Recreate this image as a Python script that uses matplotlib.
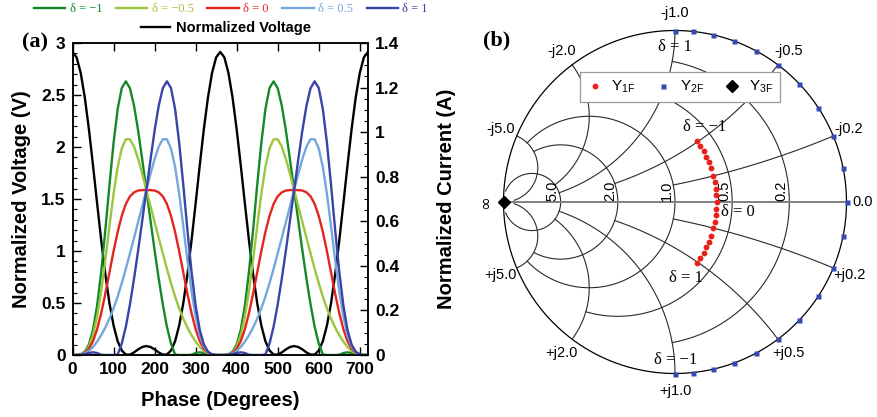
import numpy as np
import matplotlib
matplotlib.use('Agg')
import matplotlib.pyplot as plt
from matplotlib.lines import Line2D
from matplotlib.ticker import MultipleLocator

plt.rcParams['font.family'] = ['Liberation Sans', 'DejaVu Sans']
plt.rcParams['mathtext.fontset'] = 'custom'
plt.rcParams['mathtext.rm'] = 'Liberation Sans'
plt.rcParams['mathtext.default'] = 'regular'
SERIF = ['Liberation Serif', 'DejaVu Serif']

# ---- (a) one period of the waveforms, every 10 degrees (the plot repeats it twice)
phase = list(range(0, 361, 10))
voltage = [2.914, 2.862, 2.712, 2.475, 2.170, 1.822, 1.457, 1.101, 0.776, 0.500,
           0.285, 0.133, 0.043, 0.004, 0.004, 0.025, 0.054, 0.077, 0.086, 0.077,
           0.054, 0.025, 0.004, 0.004, 0.043, 0.133, 0.285, 0.500, 0.776, 1.101,
           1.457, 1.822, 2.170, 2.475, 2.712, 2.862, 2.914]
cur_m1 = [0.0, 0.0, 0.003, 0.015, 0.047, 0.113, 0.222, 0.374, 0.561, 0.762,
          0.951, 1.103, 1.198, 1.228, 1.197, 1.118, 1.006, 0.876, 0.740, 0.604,
          0.470, 0.343, 0.227, 0.127, 0.051, 0.002, 0.0, 0.0, 0.0, 0.001,
          0.009, 0.012, 0.009, 0.004, 0.001, 0.0, 0.0]
cur_m05 = [0.0, 0.0, 0.002, 0.012, 0.038, 0.089, 0.172, 0.286, 0.426, 0.577,
           0.722, 0.843, 0.927, 0.968, 0.968, 0.935, 0.879, 0.812, 0.740, 0.668,
           0.597, 0.526, 0.456, 0.387, 0.322, 0.262, 0.209, 0.163, 0.123, 0.089,
           0.060, 0.036, 0.018, 0.007, 0.002, 0.0, 0.0]
cur_0 = [0.0, 0.0, 0.002, 0.010, 0.028, 0.062, 0.116, 0.188, 0.275, 0.370,
         0.465, 0.552, 0.624, 0.678, 0.712, 0.730, 0.738, 0.740, 0.740, 0.740,
         0.738, 0.730, 0.712, 0.678, 0.624, 0.552, 0.465, 0.370, 0.275, 0.188,
         0.116, 0.062, 0.028, 0.010, 0.002, 0.0, 0.0]
cur_p05 = [0.0, 0.0, 0.002, 0.007, 0.018, 0.036, 0.060, 0.089, 0.123, 0.163,
           0.209, 0.262, 0.322, 0.387, 0.456, 0.526, 0.597, 0.668, 0.740, 0.812,
           0.879, 0.935, 0.968, 0.968, 0.927, 0.843, 0.722, 0.577, 0.426, 0.286,
           0.172, 0.089, 0.038, 0.012, 0.002, 0.0, 0.0]
cur_p1 = [0.0, 0.0, 0.001, 0.004, 0.009, 0.012, 0.009, 0.001, 0.0, 0.0,
          0.0, 0.002, 0.051, 0.127, 0.227, 0.343, 0.470, 0.604, 0.740, 0.876,
          1.006, 1.118, 1.197, 1.228, 1.198, 1.103, 0.951, 0.762, 0.561, 0.374,
          0.222, 0.113, 0.047, 0.015, 0.003, 0.0, 0.0]
currents = [cur_m1, cur_m05, cur_0, cur_p05, cur_p1]
cur_labels = ['δ = −1', 'δ = −0.5', 'δ = 0', 'δ = 0.5', 'δ = 1']
cur_colors = ['#15892a', '#9dc63c', '#e2261f', '#74a8da', '#3a43a6']

# ---- (b) fundamental / harmonic admittances against delta
delta = [-1.0, -0.9, -0.8, -0.7, -0.6, -0.5, -0.4, -0.3, -0.2, -0.1, 0.0,
         0.1, 0.2, 0.3, 0.4, 0.5, 0.6, 0.7, 0.8, 0.9, 1.0]
y1f_g = 0.61
y1f_b = [-0.51, -0.46, -0.41, -0.36, -0.31, -0.26, -0.20, -0.15, -0.10, -0.05, 0.0,
         0.05, 0.10, 0.15, 0.20, 0.26, 0.31, 0.36, 0.41, 0.46, 0.51]
y2f_b = [1.0, 0.9, 0.8, 0.7, 0.6, 0.5, 0.4, 0.3, 0.2, 0.1, 0.0,
         -0.1, -0.2, -0.3, -0.4, -0.5, -0.6, -0.7, -0.8, -0.9, -1.0]
# Y3F is infinite for every delta (short circuit)

grid_vals = [0.2, 0.5, 1.0, 2.0, 5.0]
grid_lims = [1.0, 2.0, 5.0, 5.0, 30.0]

W, H = 877, 417
fig = plt.figure(figsize=(W / 100, H / 100), dpi=100)


def two_periods(v):
    return v + v[1:]


ph = phase + [p + 360 for p in phase[1:]]

# ================= panel (a)
ax = fig.add_axes([72.5 / W, 1 - 355 / H, (368 - 72.5) / W, (355 - 43) / H])
axr = ax.twinx()
ax.plot(ph, two_periods(voltage), color='black', lw=1.7)
for vals, c in zip(currents, cur_colors):
    axr.plot(ph, two_periods(vals), color=c, lw=1.7)

ax.set_xlim(0, 720)
ax.set_ylim(0, 3)
axr.set_ylim(0, 1.4)
ax.set_xticks(range(0, 701, 100))
ax.set_xticklabels([str(t) for t in range(0, 701, 100)], fontweight='bold')
ax.set_yticks([0, 0.5, 1, 1.5, 2, 2.5, 3])
ax.set_yticklabels(['0', '0.5', '1', '1.5', '2', '2.5', '3'], fontweight='bold')
ax.yaxis.set_minor_locator(MultipleLocator(0.1))
axr.set_yticks([0, 0.2, 0.4, 0.6, 0.8, 1.0, 1.2, 1.4])
axr.set_yticklabels(['0', '0.2', '0.4', '0.6', '0.8', '1', '1.2', '1.4'], fontweight='bold')
axr.yaxis.set_minor_locator(MultipleLocator(0.05))
ax.tick_params(axis='both', which='both', direction='in', labelsize=12.5, top=True, right=False)
ax.tick_params(axis='both', which='major', length=5.5, width=1)
ax.tick_params(axis='both', which='minor', length=3, width=0.8)
ax.tick_params(axis='x', pad=5)
ax.tick_params(axis='y', pad=5)
axr.tick_params(axis='y', which='both', direction='in', labelsize=12.5, pad=5)
axr.tick_params(axis='y', which='major', length=5.5, width=1)
axr.tick_params(axis='y', which='minor', length=3, width=0.8)
for a in (ax, axr):
    for s in a.spines.values():
        s.set_linewidth(1.1)

fig.text(220 / W, 1 - 400 / H, 'Phase (Degrees)', ha='center', va='center',
         fontsize=14.5, fontweight='bold')
fig.text(22 / W, 1 - 199 / H, 'Normalized Voltage (V)', ha='center', va='center',
         rotation=90, fontsize=14.5, fontweight='bold')
fig.text(446 / W, 1 - 199 / H, 'Normalized Current (A)', ha='center', va='center',
         rotation=90, fontsize=14.5, fontweight='bold')
fig.text(35 / W, 1 - 42 / H, '(a)', ha='center', va='center', fontsize=16,
         fontweight='bold', family=SERIF)

h1 = [Line2D([], [], color=c, lw=1.7) for c in cur_colors]
leg1 = fig.legend(h1, cur_labels, ncol=5, loc='center', bbox_to_anchor=(231 / W, 1 - 9 / H),
                  frameon=False, prop={'family': SERIF, 'size': 9}, handlelength=2.5,
                  handletextpad=0.35, columnspacing=1.1, borderaxespad=0, borderpad=0)
for t, c in zip(leg1.get_texts(), cur_colors):
    t.set_color(c)
fig.legend([Line2D([], [], color='black', lw=1.7)], ['Normalized Voltage'], loc='center',
           bbox_to_anchor=(226 / W, 1 - 28 / H), frameon=False,
           prop={'weight': 'bold', 'size': 10.5}, handlelength=2.0, handletextpad=0.4,
           borderaxespad=0, borderpad=0)

# ================= panel (b): admittance Smith chart
CX, CY, R = 675.0, 202.0, 171.5
sx = fig.add_axes([470 / W, 0, (W - 470) / W, 1])
sx.set_xlim((470 - CX) / R, (W - CX) / R)
sx.set_ylim((CY - H) / R, CY / R)
sx.axis('off')


def gam(y):
    return (1 - y) / (1 + y)


gc = '#2a2a2a'
for g, bm in zip(grid_vals, grid_lims):
    b = np.tan(np.linspace(-np.arctan(bm), np.arctan(bm), 800))
    G = gam(g + 1j * b)
    sx.plot(G.real, G.imag, color=gc, lw=0.8, zorder=1)
for b0, gm in zip(grid_vals, grid_lims):
    g = np.tan(np.linspace(0, np.arctan(gm), 800))
    for s in (1, -1):
        G = gam(g + 1j * s * b0)
        sx.plot(G.real, G.imag, color=gc, lw=0.8, zorder=1)
th = np.linspace(0, 2 * np.pi, 721)
sx.plot(np.cos(th), np.sin(th), color='black', lw=0.9, zorder=1)
sx.plot([-1, 1], [0, 0], color='#808080', lw=1.4, zorder=1)

for b0 in grid_vals:
    for s, pre in ((-1, '-j'), (1, '+j')):
        G = 1.1 * gam(1j * s * b0)
        sx.text(G.real, G.imag, f'{pre}{b0:.1f}', ha='center', va='center', fontsize=10.5)
for g in grid_vals:
    u = gam(g)
    sx.text(u - 0.006, 0.006, f'{g:.1f}', rotation=90, ha='right', va='bottom', fontsize=10.5)
sx.text(1.035, 0, '0.0', ha='left', va='center', fontsize=10.5)
sx.text(-1.108, 0, '∞', rotation=90, ha='center', va='center', fontsize=12,
        family=['DejaVu Sans'])

G1 = gam(y1f_g + 1j * np.array(y1f_b))
G2 = gam(1j * np.array(y2f_b))
sx.plot(G1.real, G1.imag, 'o', color='#e8221b', ms=4.2, mec='none', zorder=3, label='Y$_{1F}$')
sx.plot(G2.real, G2.imag, 's', color='#3449b3', ms=3.6, mec='none', zorder=3, label='Y$_{2F}$')
sx.plot([-1], [0], 'D', color='black', ms=6.5, zorder=4, label='Y$_{3F}$')

sleg = sx.legend(loc='upper left', bbox_to_anchor=((580 - 470) / (W - 470), 1 - 72 / H),
                 ncol=3, fontsize=11, frameon=True, fancybox=False, framealpha=1,
                 edgecolor='#9a9a9a', handlelength=1.0, handletextpad=0.6,
                 columnspacing=1.3, borderpad=0.45, borderaxespad=0)
sleg.get_frame().set_linewidth(0.9)
sleg.set_zorder(5)


def pxy(x, y):
    return (x - CX) / R, (CY - y) / R


notes = [('δ = −1', 705, 127), ('δ = 1', 675, 47), ('δ = 0', 738, 212),
         ('δ = 1', 686, 278), ('δ = −1', 676, 360)]
for txt, x, y in notes:
    u, v = pxy(x, y)
    sx.text(u, v, txt, ha='center', va='center', fontsize=12, family=SERIF, zorder=6)

fig.text(497 / W, 1 - 40 / H, '(b)', ha='center', va='center', fontsize=16,
         fontweight='bold', family=SERIF)

fig.savefig('out.png', dpi=100)
